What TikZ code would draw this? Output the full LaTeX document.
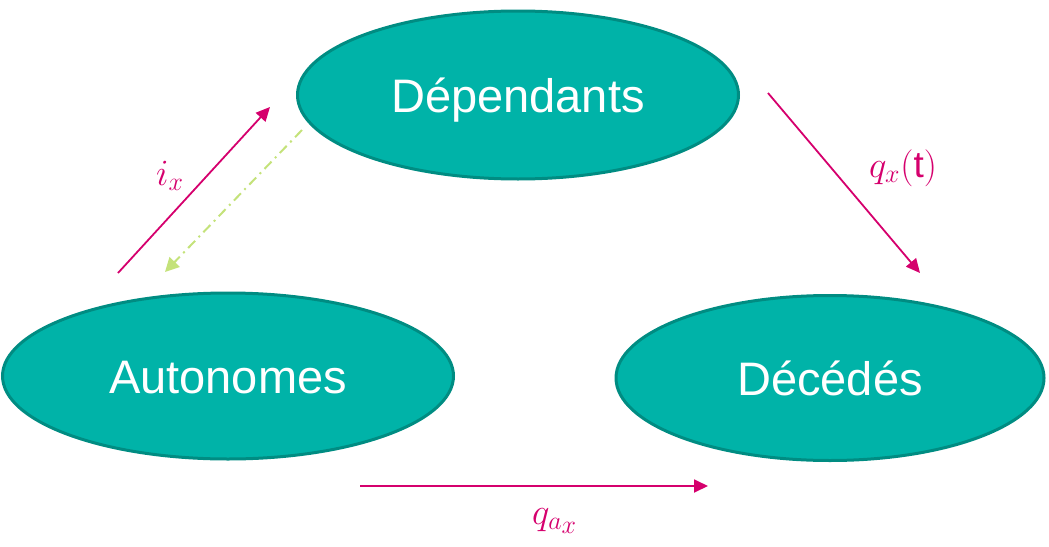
\documentclass[tikz,border=0pt]{standalone}
\usepackage{fix-cm}
\usepackage{graphicx}
\usepackage{fontspec}
\setmainfont{Liberation Sans}
\usetikzlibrary{shapes.geometric,arrows.meta}
\definecolor{teal1}{HTML}{00B3A8}
\definecolor{teal2}{HTML}{008C82}
\definecolor{mag}{HTML}{D5006D}
\definecolor{lgreen}{HTML}{C4E27A}
\tikzset{
  state/.style={ellipse, fill=teal1, draw=teal2, line width=3pt, text=white, font=\fontsize{47}{56}\selectfont, inner sep=0pt, text height=34pt, text depth=0pt},
  flow/.style={draw=mag, line width=1.8pt, -{Triangle[length=14pt,width=13pt]}},
  back/.style={draw=lgreen, line width=2pt, dash pattern=on 10pt off 5pt on 2pt off 5pt, -{Triangle[length=14pt,width=14pt]}},
  lab/.style={text=mag, font=\fontsize{20}{24}\selectfont}
}
\begin{document}
\begin{tikzpicture}[x=1pt,y=-1pt]
\useasboundingbox (0,0) rectangle (1049,546);
\node[state, minimum width=441pt, minimum height=168pt] (dep) at (518,95) {Dépendants};
\node[state, minimum width=451pt, minimum height=166pt] (aut) at (228,376) {Autonomes};
\node[state, minimum width=428pt, minimum height=165pt] (dec) at (830,378) {Décédés};
\coordinate (ia) at (118,273);
\coordinate (ib) at (270,107);
\coordinate (ga) at (302,130);
\coordinate (gb) at (165,272);
\coordinate (qa) at (768,93);
\coordinate (qb) at (920,273);
\coordinate (ra) at (360,486);
\coordinate (rb) at (708,486);
\draw[flow] (ia) -- (ib);
\draw[back] (ga) -- (gb);
\draw[flow] (qa) -- (qb);
\draw[flow] (ra) -- (rb);
\node[lab] (lix) at (170,176) {\scalebox{1.85}{$i_x$}};
\node[lab] (lqx) at (903,168) {\scalebox{1.85}{$q_{\scriptstyle x}\mathrm{(t)}$}};
\node[lab] (lqa) at (555,521) {\scalebox{1.85}{$q_{\scriptstyle a_{\scriptstyle x}}$}};
\end{tikzpicture}
\end{document}
